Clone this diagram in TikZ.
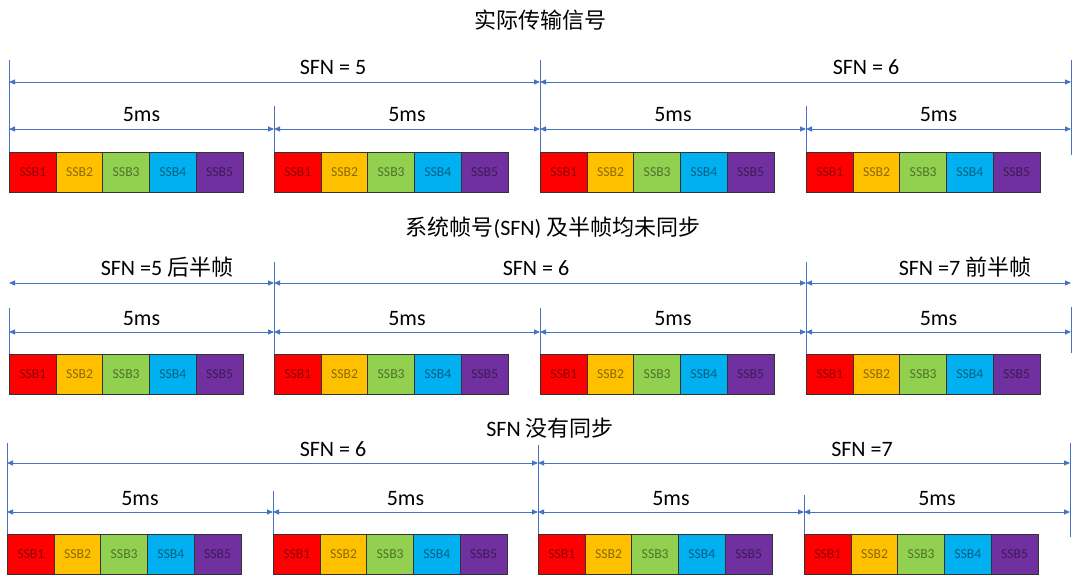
\documentclass[tikz,border=0pt]{standalone}
\usepackage{fontspec}
\setmainfont{Carlito}
\newfontfamily\cjk{Noto Sans CJK SC}
\usetikzlibrary{arrows.meta}
\definecolor{dimblue}{RGB}{68,114,196}
\definecolor{ssbA}{RGB}{255,0,0}
\definecolor{ssbB}{RGB}{255,192,0}
\definecolor{ssbC}{RGB}{146,208,80}
\definecolor{ssbD}{RGB}{0,176,240}
\definecolor{ssbE}{RGB}{112,48,160}
\newcommand\ssbgroup[3]{%
  \foreach \i/\c in {1/ssbA,2/ssbB,3/ssbC,4/ssbD,5/ssbE}{%
    \node[ssbbox, fill=\c, text=\c!55!black] (#1-\i) at ({#2+(\i-1)*46.7},#3) {SSB\i};
  }%
}
\begin{document}
\begin{tikzpicture}[x=1pt,y=-1pt,
  dimline/.style={draw=dimblue, line width=0.8pt, {Triangle[length=6pt,width=5pt]}-{Triangle[length=6pt,width=5pt]}},
  ext/.style={draw=dimblue, line width=0.8pt},
  lbl/.style={anchor=base, inner sep=0pt, font=\fontsize{22}{26}\selectfont},
  ttl/.style={anchor=base, inner sep=0pt, font=\fontsize{22}{26}\selectfont},
  ssbbox/.style={draw=black!80, line width=0.9pt, minimum width=46.7pt, minimum height=40pt, inner sep=0pt, anchor=north west, font=\fontsize{13.7}{16}\selectfont}]
\useasboundingbox (0,0) rectangle (1080,575);
\fill[white] (0,0) rectangle (1080,575);

% ---------------- Row 1 ----------------
\node[ttl] (title1) at (540,29) {\cjk 实际传输信号};
% extension lines
\coordinate (a0u) at (9,60);    \coordinate (a0d) at (9,152);
\coordinate (a1u) at (274,106); \coordinate (a1d) at (274,152);
\coordinate (a2u) at (540,60);  \coordinate (a2d) at (540,152);
\coordinate (a3u) at (806,106); \coordinate (a3d) at (806,152);
\coordinate (a4u) at (1071,60); \coordinate (a4d) at (1071,155);
\foreach \k in {0,...,4}{\draw[ext] (a\k u) -- (a\k d);}
% SFN arrows
\coordinate (s0) at (9,82); \coordinate (s1) at (540,82); \coordinate (s2) at (1071,82);
\draw[dimline] (s0) -- (s1);
\draw[dimline] (s1) -- (s2);
\node[lbl] (sfn5) at (333,75) {SFN = 5};
\node[lbl] (sfn6) at (866,75) {SFN = 6};
% 5ms arrows
\coordinate (m0) at (9,129); \coordinate (m1) at (274,129); \coordinate (m2) at (540,129);
\coordinate (m3) at (806,129); \coordinate (m4) at (1071,129);
\draw[dimline] (m0) -- (m1);
\draw[dimline] (m1) -- (m2);
\draw[dimline] (m2) -- (m3);
\draw[dimline] (m3) -- (m4);
\node[lbl] (ms1) at (141.5,122) {5ms};
\node[lbl] (ms2) at (407,122) {5ms};
\node[lbl] (ms3) at (673,122) {5ms};
\node[lbl] (ms4) at (938.5,122) {5ms};
\ssbgroup{ga}{9}{152}
\ssbgroup{gb}{274}{152}
\ssbgroup{gc}{540}{152}
\ssbgroup{gd}{806}{152}

% ---------------- Row 2 ----------------
\node[ttl] (title2) at (553,236) {{\cjk 系统帧号}(SFN) {\cjk 及半帧均未同步}};
\coordinate (b0u) at (9,308);    \coordinate (b0d) at (9,354);
\coordinate (b1u) at (274,262);  \coordinate (b1d) at (274,354);
\coordinate (b2u) at (540,308);  \coordinate (b2d) at (540,354);
\coordinate (b3u) at (806,262);  \coordinate (b3d) at (806,354);
\coordinate (b4u) at (1071,307); \coordinate (b4d) at (1071,353);
\foreach \k in {0,...,4}{\draw[ext] (b\k u) -- (b\k d);}
\coordinate (t0) at (9,283); \coordinate (t1) at (274,283); \coordinate (t2) at (806,283); \coordinate (t3) at (1071,283);
\draw[dimline] (t0) -- (t1);
\draw[dimline] (t1) -- (t2);
\draw[dimline] (t2) -- (t3);
\node[lbl] (sfn5h) at (167,276) {SFN =5 {\cjk 后半帧}};
\node[lbl] (sfn6b) at (536,276) {SFN = 6};
\node[lbl] (sfn7h) at (965,276) {SFN =7 {\cjk 前半帧}};
\coordinate (n0) at (9,332); \coordinate (n1) at (274,332); \coordinate (n2) at (540,332);
\coordinate (n3) at (806,332); \coordinate (n4) at (1071,332);
\draw[dimline] (n0) -- (n1);
\draw[dimline] (n1) -- (n2);
\draw[dimline] (n2) -- (n3);
\draw[dimline] (n3) -- (n4);
\node[lbl] (ms5) at (141.5,325) {5ms};
\node[lbl] (ms6) at (407,325) {5ms};
\node[lbl] (ms7) at (673,325) {5ms};
\node[lbl] (ms8) at (938.5,325) {5ms};
\ssbgroup{ge}{9}{354}
\ssbgroup{gf}{274}{354}
\ssbgroup{gg}{540}{354}
\ssbgroup{gh}{806}{354}

% ---------------- Row 3 ----------------
\node[ttl] (title3) at (550,436) {SFN {\cjk 没有同步}};
\coordinate (c0u) at (7,443);    \coordinate (c0d) at (7,534);
\coordinate (c1u) at (273,491);  \coordinate (c1d) at (273,534);
\coordinate (c2u) at (538,445);  \coordinate (c2d) at (538,534);
\coordinate (c3u) at (804,495);  \coordinate (c3d) at (804,534);
\coordinate (c4u) at (1070,443); \coordinate (c4d) at (1070,537);
\foreach \k in {0,...,4}{\draw[ext] (c\k u) -- (c\k d);}
\coordinate (u0) at (7,463); \coordinate (u1) at (538,463); \coordinate (u2) at (1070,463);
\draw[dimline] (u0) -- (u1);
\draw[dimline] (u1) -- (u2);
\node[lbl] (sfn6c) at (333,456) {SFN = 6};
\node[lbl] (sfn7c) at (862,456) {SFN =7};
\coordinate (p0) at (7,512); \coordinate (p1) at (273,512); \coordinate (p2) at (538,512);
\coordinate (p3) at (804,512); \coordinate (p4) at (1070,512);
\draw[dimline] (p0) -- (p1);
\draw[dimline] (p1) -- (p2);
\draw[dimline] (p2) -- (p3);
\draw[dimline] (p3) -- (p4);
\node[lbl] (ms9) at (140,505) {5ms};
\node[lbl] (ms10) at (405.5,505) {5ms};
\node[lbl] (ms11) at (671,505) {5ms};
\node[lbl] (ms12) at (937,505) {5ms};
\ssbgroup{gi}{7}{534}
\ssbgroup{gj}{273}{534}
\ssbgroup{gk}{538}{534}
\ssbgroup{gl}{804}{534}
\end{tikzpicture}
\end{document}
